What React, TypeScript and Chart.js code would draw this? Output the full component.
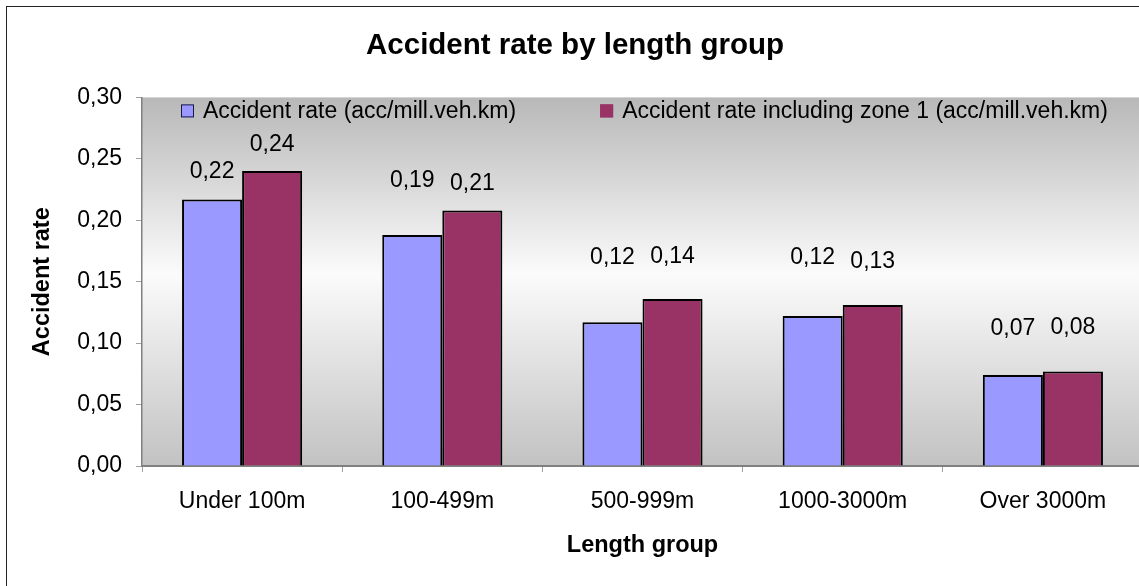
import { useEffect, useRef } from "react";
import { Chart, registerables } from "chart.js";

Chart.register(...registerables);

// Length groups and accident rates (accidents per million vehicle km)
const lengthGroups = ["Under 100m", "100-499m", "500-999m", "1000-3000m", "Over 3000m"];
const accidentRate = [0.217, 0.188, 0.117, 0.122, 0.074];
const accidentRateZone1 = [0.24, 0.208, 0.136, 0.131, 0.077];
const seriesNames = [
  "Accident rate (acc/mill.veh.km)",
  "Accident rate including zone 1 (acc/mill.veh.km)",
];
const yTicks = [0, 0.05, 0.1, 0.15, 0.2, 0.25, 0.3];

const FONT = '"Liberation Sans", Arial, Helvetica, sans-serif';
const BLUE = "#9999ff";
const PLUM = "#993366";

// decimal comma formatting
const comma = (v: number) => v.toFixed(2).replace(".", ",");

// how far (px) each value label sits above the top of its bar: [rate, zone 1]
const labelLift = [
  [28, 26],
  [54, 27],
  [65, 42],
  [58, 43],
  [46, 44],
];

const plotFill = {
  id: "plotFill",
  beforeDraw(chart: any) {
    const { ctx, chartArea: a } = chart;
    const g = ctx.createLinearGradient(0, a.top, 0, a.bottom);
    g.addColorStop(0, "#b8b8b8");
    g.addColorStop(0.48, "#fbfbfb");
    g.addColorStop(1, "#c2c2c2");
    ctx.save();
    ctx.fillStyle = g;
    ctx.fillRect(a.left, a.top, a.right - a.left, a.bottom - a.top);
    ctx.restore();
  },
};

const valueLabels = {
  id: "valueLabels",
  afterDatasetsDraw(chart: any) {
    const { ctx } = chart;
    ctx.save();
    ctx.font = `23px ${FONT}`;
    ctx.fillStyle = "#000";
    ctx.textAlign = "center";
    ctx.textBaseline = "middle";
    chart.data.datasets.forEach((ds: any, d: number) => {
      const meta = chart.getDatasetMeta(d);
      meta.data.forEach((el: any, i: number) => {
        ctx.fillText(comma(ds.data[i]), el.x, el.y - labelLift[i][d]);
      });
    });
    ctx.restore();
  },
};

const insideLegend = {
  id: "insideLegend",
  afterDraw(chart: any) {
    const { ctx, chartArea: a } = chart;
    const box = 13;
    const top = a.top + 7;
    const colors = [BLUE, PLUM];
    const borders = ["#1a1a40", PLUM];
    ctx.save();
    ctx.font = `23px ${FONT}`;
    ctx.textBaseline = "middle";
    ctx.textAlign = "left";
    let x = a.left + 39;
    seriesNames.forEach((name, i) => {
      ctx.fillStyle = colors[i];
      ctx.fillRect(x, top, box, box);
      ctx.strokeStyle = borders[i];
      ctx.lineWidth = 1;
      ctx.strokeRect(x + 0.5, top + 0.5, box - 1, box - 1);
      ctx.fillStyle = "#000";
      ctx.fillText(name, x + box + 9, top + box / 2 + 1);
      x += box + 9 + ctx.measureText(name).width + 84;
    });
    ctx.restore();
  },
};

export default function App() {
  const canvasRef = useRef<HTMLCanvasElement>(null);

  useEffect(() => {
    if (!canvasRef.current) return;
    const chart = new Chart(canvasRef.current, {
      type: "bar",
      data: {
        labels: lengthGroups,
        datasets: [
          {
            label: seriesNames[0],
            data: accidentRate,
            backgroundColor: BLUE,
            borderColor: "#000",
            borderWidth: 2,
          },
          {
            label: seriesNames[1],
            data: accidentRateZone1,
            backgroundColor: PLUM,
            borderColor: "#000",
            borderWidth: 2,
          },
        ],
      },
      options: {
        responsive: false,
        animation: false,
        layout: { padding: { left: 0, right: 6, top: 0, bottom: 26 } },
        datasets: {
          bar: { categoryPercentage: 0.6, barPercentage: 1.0 },
        },
        plugins: {
          legend: { display: false },
          tooltip: { enabled: false },
          title: {
            display: true,
            text: "Accident rate by length group",
            color: "#000",
            font: { family: FONT, size: 29.5, weight: "bold" },
            padding: { top: 21, bottom: 34 },
          },
        },
        scales: {
          x: {
            grid: {
              display: true,
              drawOnChartArea: false,
              drawTicks: true,
              tickLength: 6,
              color: "#a0a0a0",
              offset: true,
            },
            border: { display: true, color: "#808080", width: 2 },
            ticks: {
              color: "#000",
              font: { family: FONT, size: 23 },
              padding: 16,
              maxRotation: 0,
              autoSkip: false,
            },
            title: {
              display: true,
              text: "Length group",
              color: "#000",
              font: { family: FONT, size: 23.5, weight: "bold" },
              padding: { top: 0, bottom: 0 },
            },
            afterFit(scale: any) {
              scale.height = 94;
            },
          },
          y: {
            min: yTicks[0],
            max: yTicks[yTicks.length - 1],
            grid: {
              display: true,
              drawOnChartArea: false,
              drawTicks: true,
              tickLength: 6,
              color: "#a0a0a0",
            },
            border: { display: true, color: "#808080", width: 1.5 },
            ticks: {
              stepSize: 0.05,
              color: "#000",
              font: { family: FONT, size: 23 },
              padding: 14,
              callback: (v: any) => comma(Number(v)),
            },
            afterBuildTicks(scale: any) {
              scale.ticks = yTicks.map((v) => ({ value: v }));
            },
            title: {
              display: true,
              text: "Accident rate",
              color: "#000",
              font: { family: FONT, size: 23.5, weight: "bold" },
              padding: { top: 21, bottom: 0 },
            },
            afterFit(scale: any) {
              scale.width = 135;
            },
          },
        },
      },
      plugins: [plotFill, valueLabels, insideLegend],
    });
    return () => chart.destroy();
  }, []);

  return (
    <div
      style={{
        position: "fixed",
        left: 6,
        top: 6,
        width: 1200,
        height: 700,
        border: "1px solid #222",
        background: "#fff",
      }}
    >
      <canvas
        ref={canvasRef}
        width={1142}
        height={579}
        style={{ display: "block", width: 1142, height: 579 }}
      />
    </div>
  );
}
